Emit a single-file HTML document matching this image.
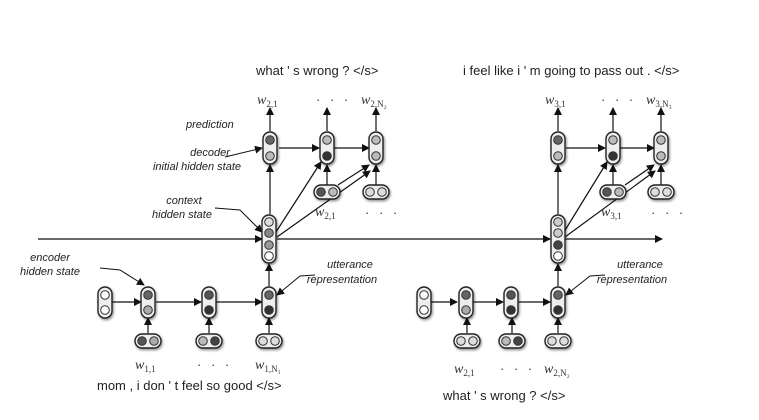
<!DOCTYPE html>
<html><head><meta charset="utf-8"><style>
html,body{margin:0;padding:0;background:#fff;}
svg{display:block;}
.t{font-family:"Liberation Sans",sans-serif;font-size:13px;fill:#222;}
.a{font-family:"Liberation Sans",sans-serif;font-size:11px;font-style:italic;fill:#222;}
.m{font-family:"Liberation Serif",serif;font-size:14px;font-style:italic;fill:#333;}
.s{font-family:"Liberation Serif",serif;font-size:9px;font-style:normal;fill:#333;}
.d{font-family:"Liberation Sans",sans-serif;font-size:13px;fill:#333;letter-spacing:3px;}
</style></head><body>
<svg width="759" height="420" viewBox="0 0 759 420" xmlns="http://www.w3.org/2000/svg">
<defs>
<marker id="ar" markerWidth="8" markerHeight="8" refX="7" refY="4" orient="auto" markerUnits="userSpaceOnUse">
<path d="M0,0 L8,4 L0,8 z" fill="#111"/></marker>
<filter id="sh" x="-50%" y="-50%" width="200%" height="200%"><feDropShadow dx="1" dy="1.5" stdDeviation="1.2" flood-opacity="0.45"/></filter>
</defs>
<g stroke="#111" stroke-width="1.2" fill="none" marker-end="url(#ar)">
<line x1="38" y1="239" x2="262" y2="239"/>
<line x1="277" y1="239" x2="550" y2="239"/>
<line x1="565" y1="239" x2="662" y2="239"/>
<line x1="111" y1="302" x2="141" y2="302"/>
<line x1="156" y1="302" x2="201" y2="302"/>
<line x1="216" y1="302" x2="262" y2="302"/>
<line x1="148" y1="333" x2="148" y2="318"/>
<line x1="209" y1="333" x2="209" y2="318"/>
<line x1="269" y1="333" x2="269" y2="318"/>
<line x1="269" y1="286" x2="269" y2="264"/>
<line x1="270" y1="214" x2="270" y2="165"/>
<line x1="276" y1="232" x2="321" y2="162"/>
<line x1="277" y1="237" x2="370" y2="171"/>
<line x1="279" y1="148" x2="319" y2="148"/>
<line x1="334" y1="148" x2="369" y2="148"/>
<line x1="327" y1="185" x2="327" y2="165"/>
<line x1="376" y1="185" x2="376" y2="165"/>
<line x1="270" y1="131" x2="270" y2="108"/>
<line x1="327" y1="131" x2="327" y2="108"/>
<line x1="376" y1="131" x2="376" y2="108"/>
<line x1="338" y1="185" x2="369" y2="165"/>
<line x1="430" y1="302" x2="457" y2="302"/>
<line x1="472" y1="302" x2="503" y2="302"/>
<line x1="517" y1="302" x2="550" y2="302"/>
<line x1="467" y1="333" x2="467" y2="318"/>
<line x1="512" y1="333" x2="512" y2="318"/>
<line x1="558" y1="333" x2="558" y2="318"/>
<line x1="558" y1="286" x2="558" y2="264"/>
<line x1="558" y1="214" x2="558" y2="165"/>
<line x1="564" y1="232" x2="607" y2="162"/>
<line x1="565" y1="237" x2="655" y2="171"/>
<line x1="566" y1="148" x2="605" y2="148"/>
<line x1="620" y1="148" x2="654" y2="148"/>
<line x1="613" y1="185" x2="613" y2="165"/>
<line x1="661" y1="185" x2="661" y2="165"/>
<line x1="558" y1="131" x2="558" y2="108"/>
<line x1="613" y1="131" x2="613" y2="108"/>
<line x1="661" y1="131" x2="661" y2="108"/>
<line x1="625" y1="185" x2="654" y2="165"/>
<path d="M100,268 L120,270 L144,285" stroke-width="1"/>
<path d="M225,157 L262,148" stroke-width="1"/>
<path d="M215,208 L240,210 L262,232" stroke-width="1"/>
<path d="M315,275 L300,276 L277,295" stroke-width="1"/>
<path d="M605,275 L590,276 L566,295" stroke-width="1"/>
</g>
<g filter="url(#sh)" stroke="#222" stroke-width="1.4">
<rect x="98" y="287" width="14" height="31" rx="7" fill="#eee"/>
<rect x="141" y="287" width="14" height="31" rx="7" fill="#eee"/>
<rect x="202" y="287" width="14" height="31" rx="7" fill="#eee"/>
<rect x="262" y="287" width="14" height="31" rx="7" fill="#eee"/>
<rect x="263" y="132" width="14" height="32" rx="7" fill="#eee"/>
<rect x="320" y="132" width="14" height="32" rx="7" fill="#eee"/>
<rect x="369" y="132" width="14" height="32" rx="7" fill="#eee"/>
<rect x="262" y="215" width="14" height="48" rx="7" fill="#eee"/>
<rect x="417" y="287" width="14" height="31" rx="7" fill="#eee"/>
<rect x="459" y="287" width="14" height="31" rx="7" fill="#eee"/>
<rect x="504" y="287" width="14" height="31" rx="7" fill="#eee"/>
<rect x="551" y="287" width="14" height="31" rx="7" fill="#eee"/>
<rect x="551" y="132" width="14" height="32" rx="7" fill="#eee"/>
<rect x="606" y="132" width="14" height="32" rx="7" fill="#eee"/>
<rect x="654" y="132" width="14" height="32" rx="7" fill="#eee"/>
<rect x="551" y="215" width="14" height="48" rx="7" fill="#eee"/>
<rect x="135" y="334" width="26" height="14" rx="7" fill="#eee"/>
<rect x="196" y="334" width="26" height="14" rx="7" fill="#eee"/>
<rect x="256" y="334" width="26" height="14" rx="7" fill="#eee"/>
<rect x="314" y="185" width="26" height="14" rx="7" fill="#eee"/>
<rect x="363" y="185" width="26" height="14" rx="7" fill="#eee"/>
<rect x="454" y="334" width="26" height="14" rx="7" fill="#eee"/>
<rect x="499" y="334" width="26" height="14" rx="7" fill="#eee"/>
<rect x="545" y="334" width="26" height="14" rx="7" fill="#eee"/>
<rect x="600" y="185" width="26" height="14" rx="7" fill="#eee"/>
<rect x="648" y="185" width="26" height="14" rx="7" fill="#eee"/>
</g>
<g stroke="#333" stroke-width="1">
<circle cx="105" cy="295" r="4.3" fill="#fff"/><circle cx="105" cy="310" r="4.3" fill="#fff"/>
<circle cx="148" cy="295" r="4.3" fill="#666"/><circle cx="148" cy="310" r="4.3" fill="#aaa"/>
<circle cx="209" cy="295" r="4.3" fill="#555"/><circle cx="209" cy="310" r="4.3" fill="#333"/>
<circle cx="269" cy="295" r="4.3" fill="#666"/><circle cx="269" cy="310" r="4.3" fill="#333"/>
<circle cx="142" cy="341" r="4.3" fill="#555"/><circle cx="154" cy="341" r="4.3" fill="#aaa"/>
<circle cx="203" cy="341" r="4.3" fill="#bbb"/><circle cx="215" cy="341" r="4.3" fill="#444"/>
<circle cx="263" cy="341" r="4.3" fill="#ddd"/><circle cx="275" cy="341" r="4.3" fill="#ddd"/>
<circle cx="269" cy="222" r="4.3" fill="#ddd"/><circle cx="269" cy="233" r="4.3" fill="#888"/>
<circle cx="269" cy="245" r="4.3" fill="#999"/><circle cx="269" cy="256" r="4.3" fill="#fff"/>
<circle cx="270" cy="140" r="4.3" fill="#666"/><circle cx="270" cy="156" r="4.3" fill="#bbb"/>
<circle cx="327" cy="140" r="4.3" fill="#bbb"/><circle cx="327" cy="156" r="4.3" fill="#333"/>
<circle cx="376" cy="140" r="4.3" fill="#bbb"/><circle cx="376" cy="156" r="4.3" fill="#bbb"/>
<circle cx="321" cy="192" r="4.3" fill="#555"/><circle cx="333" cy="192" r="4.3" fill="#bbb"/>
<circle cx="370" cy="192" r="4.3" fill="#ddd"/><circle cx="382" cy="192" r="4.3" fill="#ddd"/>
<circle cx="424" cy="295" r="4.3" fill="#fff"/><circle cx="424" cy="310" r="4.3" fill="#fff"/>
<circle cx="466" cy="295" r="4.3" fill="#666"/><circle cx="466" cy="310" r="4.3" fill="#aaa"/>
<circle cx="511" cy="295" r="4.3" fill="#555"/><circle cx="511" cy="310" r="4.3" fill="#333"/>
<circle cx="558" cy="295" r="4.3" fill="#666"/><circle cx="558" cy="310" r="4.3" fill="#333"/>
<circle cx="461" cy="341" r="4.3" fill="#ddd"/><circle cx="473" cy="341" r="4.3" fill="#ddd"/>
<circle cx="506" cy="341" r="4.3" fill="#bbb"/><circle cx="518" cy="341" r="4.3" fill="#444"/>
<circle cx="552" cy="341" r="4.3" fill="#ddd"/><circle cx="564" cy="341" r="4.3" fill="#ddd"/>
<circle cx="558" cy="222" r="4.3" fill="#ccc"/><circle cx="558" cy="233" r="4.3" fill="#ccc"/>
<circle cx="558" cy="245" r="4.3" fill="#444"/><circle cx="558" cy="256" r="4.3" fill="#fff"/>
<circle cx="558" cy="140" r="4.3" fill="#666"/><circle cx="558" cy="156" r="4.3" fill="#bbb"/>
<circle cx="613" cy="140" r="4.3" fill="#bbb"/><circle cx="613" cy="156" r="4.3" fill="#333"/>
<circle cx="661" cy="140" r="4.3" fill="#bbb"/><circle cx="661" cy="156" r="4.3" fill="#bbb"/>
<circle cx="607" cy="192" r="4.3" fill="#555"/><circle cx="619" cy="192" r="4.3" fill="#bbb"/>
<circle cx="655" cy="192" r="4.3" fill="#ddd"/><circle cx="667" cy="192" r="4.3" fill="#ddd"/>
</g>
<text class="t" x="256" y="75">what ' s wrong ? &lt;/s&gt;</text>
<text class="t" x="463" y="75">i feel like i ' m going to pass out . &lt;/s&gt;</text>
<text class="t" x="97" y="390">mom , i don ' t feel so good &lt;/s&gt;</text>
<text class="t" x="443" y="400">what ' s wrong ? &lt;/s&gt;</text>
<text class="a" x="186" y="128">prediction</text>
<text class="a" x="210" y="156" text-anchor="middle">decoder</text>
<text class="a" x="197" y="170" text-anchor="middle">initial hidden state</text>
<text class="a" x="184" y="204" text-anchor="middle">context</text>
<text class="a" x="182" y="218" text-anchor="middle">hidden state</text>
<text class="a" x="50" y="261" text-anchor="middle">encoder</text>
<text class="a" x="50" y="275" text-anchor="middle">hidden state</text>
<text class="a" x="350" y="268" text-anchor="middle">utterance</text>
<text class="a" x="342" y="283" text-anchor="middle">representation</text>
<text class="a" x="640" y="268" text-anchor="middle">utterance</text>
<text class="a" x="632" y="283" text-anchor="middle">representation</text>
<text class="m" x="257" y="104">w<tspan class="s" dy="3">2,1</tspan></text>
<text class="d" x="316" y="104">· · ·</text>
<text class="m" x="361" y="104">w<tspan class="s" dy="3">2,N₂</tspan></text>
<text class="m" x="315" y="216">w<tspan class="s" dy="3">2,1</tspan></text>
<text class="d" x="365" y="217">· · ·</text>
<text class="m" x="545" y="104">w<tspan class="s" dy="3">3,1</tspan></text>
<text class="d" x="601" y="104">· · ·</text>
<text class="m" x="646" y="104">w<tspan class="s" dy="3">3,N₃</tspan></text>
<text class="m" x="601" y="216">w<tspan class="s" dy="3">3,1</tspan></text>
<text class="d" x="651" y="217">· · ·</text>
<text class="m" x="135" y="369">w<tspan class="s" dy="3">1,1</tspan></text>
<text class="d" x="197" y="369">· · ·</text>
<text class="m" x="255" y="369">w<tspan class="s" dy="3">1,N₁</tspan></text>
<text class="m" x="454" y="373">w<tspan class="s" dy="3">2,1</tspan></text>
<text class="d" x="500" y="373">· · ·</text>
<text class="m" x="544" y="373">w<tspan class="s" dy="3">2,N₂</tspan></text>
</svg>
</body></html>
